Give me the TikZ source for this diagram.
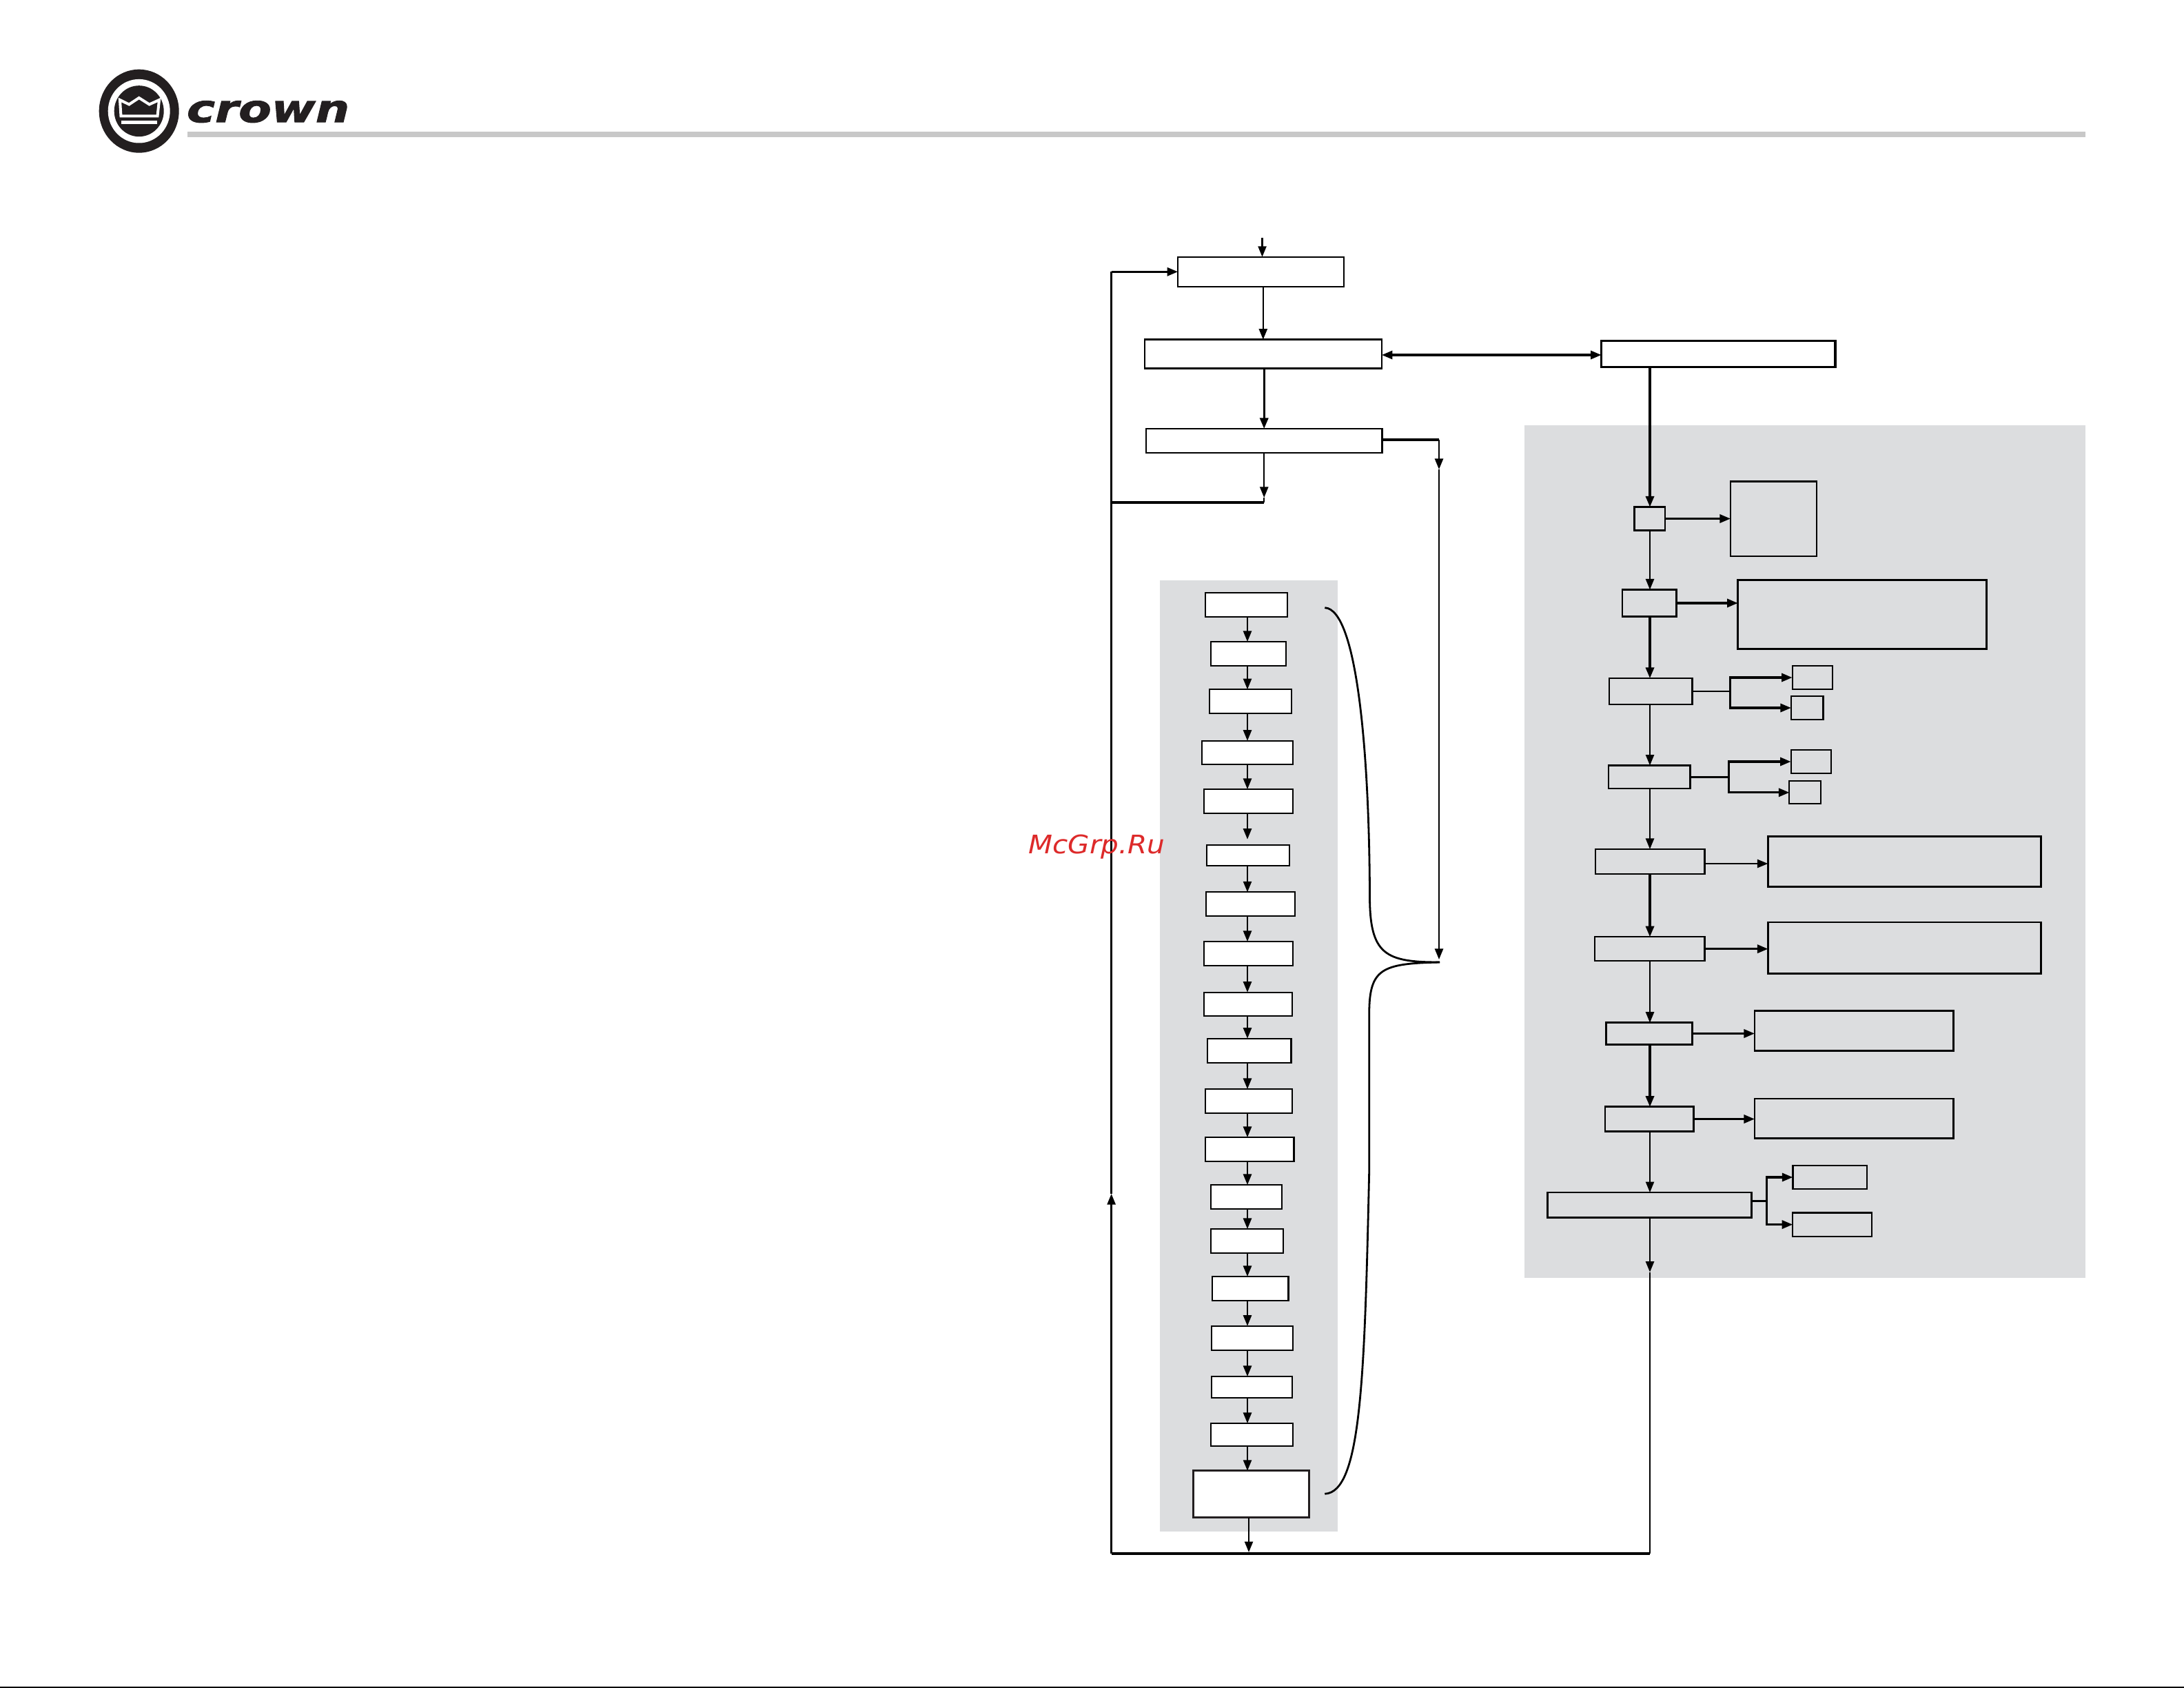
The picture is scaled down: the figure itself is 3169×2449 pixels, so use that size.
\documentclass[tikz,border=0pt]{standalone}
\usepackage{fontspec}
\newfontfamily\brandfont{DejaVu Sans}
\newfontfamily\brandheavy{DejaVu Sans}[BoldItalicFeatures={FakeBold=1.6}]
\usetikzlibrary{arrows.meta}
\definecolor{panelgray}{HTML}{DCDDDF}
\definecolor{rulegray}{HTML}{C8C8C8}
\definecolor{crownblk}{HTML}{231F20}
\definecolor{stampred}{HTML}{DD2A2A}

\begin{document}
\begin{tikzpicture}[x=0.01cm, y=0.01cm]
	\tikzstyle{every node}+=[inner sep=0pt, outer sep=0pt]
	\tikzstyle{blk}=[draw=black, line width=0.025cm]
	\tikzstyle{blkthin}=[draw=black, line width=0.021cm]
	\tikzstyle{wblk}=[blkthin, fill=white]
	\tikzstyle{wblktop}=[draw=black, line width=0.024cm, fill=white]
	\tikzstyle{wblkheavy}=[draw=black, line width=0.035cm, fill=white]
	\tikzstyle{plain}=[draw=black, line width=0.024cm]
	\tikzstyle{plainb}=[draw=black, line width=0.032cm]
	\tikzstyle{conn}=[plain, -{Triangle[length=0.155cm,width=0.12cm]}]
	\tikzstyle{connb}=[plainb, -{Triangle[length=0.155cm,width=0.12cm]}]
	\useasboundingbox (0,0) rectangle (3169,-2449);

	\fill [crownblk] (201.7,-161.2) ellipse (58 and 60.5);
	\fill [white] (201.7,-161.2) ellipse (45 and 46.3);
	\fill [crownblk] (201.7,-161.2) ellipse (36 and 37);
	\draw [white, line width=0.04cm] (174,-145) -- (187.3,-151.5) -- (201.7,-142) -- (216.7,-151.5) -- (231,-145) -- (228.5,-168.5) -- (175.5,-168.5) -- cycle;
	\fill [white] (176,-174.7) rectangle (228.3,-180);
	\node [anchor=south west, text=crownblk] (brand) at (271,-178) {\resizebox{2.36cm}{0.31cm}{\brandheavy\bfseries\itshape crown}};
	\fill [rulegray] (272,-191) rectangle (3025.5,-199);
	\draw [blkthin] (0,-2448) -- (3169,-2448);

	\fill [panelgray] (1683,-842) rectangle (1941,-2221.7);
	\fill [panelgray] (2211.5,-617.5) rectangle (3025.5,-1853.7);

	\node [wblktop, minimum width=2.41cm, minimum height=0.43cm] (top1) at (1829.7,-394.3) {};
	\node [wblktop, minimum width=3.44cm, minimum height=0.42cm] (top2) at (1832.8,-513.6) {};
	\node [wblktop, minimum width=3.42cm, minimum height=0.35cm] (top3) at (1834.2,-639.5) {};
	\node [wblkheavy, minimum width=3.39cm, minimum height=0.38cm] (side) at (2493.2,-513.3) {};

	\node [wblk, minimum width=1.195cm, minimum height=0.35cm] (lf1) at (1808.5,-877.5) {};
	\node [wblk, minimum width=1.095cm, minimum height=0.35cm] (lf2) at (1811.4,-948.5) {};
	\node [wblk, minimum width=1.195cm, minimum height=0.345cm] (lf3) at (1814.4,-1017.4) {};
	\node [wblk, minimum width=1.325cm, minimum height=0.345cm] (lf4) at (1809.9,-1092) {};
	\node [wblk, minimum width=1.295cm, minimum height=0.35cm] (lf5) at (1811.5,-1162.5) {};
	\node [wblk, minimum width=1.205cm, minimum height=0.30cm] (lf6) at (1811,-1241) {};
	\node [wblk, minimum width=1.29cm, minimum height=0.35cm] (lf7) at (1814.8,-1311.8) {};
	\node [wblk, minimum width=1.295cm, minimum height=0.35cm] (lf8) at (1811.5,-1383.5) {};
	\node [wblk, minimum width=1.28cm, minimum height=0.345cm] (lf9) at (1810.7,-1456.9) {};
	\node [wblk, minimum width=1.215cm, minimum height=0.35cm] (lf10) at (1812.7,-1524.2) {};
	\node [wblk, minimum width=1.26cm, minimum height=0.35cm] (lf11) at (1812,-1597.5) {};
	\node [wblk, minimum width=1.285cm, minimum height=0.35cm] (lf12) at (1813.2,-1667.5) {};
	\node [wblk, minimum width=1.035cm, minimum height=0.35cm] (lf13) at (1808.5,-1736.5) {};
	\node [wblk, minimum width=1.055cm, minimum height=0.35cm] (lf14) at (1809.5,-1800.5) {};
	\node [wblk, minimum width=1.105cm, minimum height=0.35cm] (lf15) at (1814.2,-1869.5) {};
	\node [wblk, minimum width=1.18cm, minimum height=0.35cm] (lf16) at (1817,-1941.2) {};
	\node [wblk, minimum width=1.17cm, minimum height=0.31cm] (lf17) at (1816.5,-2012.5) {};
	\node [wblk, minimum width=1.19cm, minimum height=0.33cm] (lf18) at (1816.5,-2081.5) {};
	\node [wblkheavy, line width=0.03cm, draw=crownblk, minimum width=1.68cm, minimum height=0.68cm] (lf19) at (1815.5,-2167.8) {};

	\node [blk, minimum width=0.445cm, minimum height=0.34cm] (rt1) at (2393.9,-752.5) {};
	\node [blk, minimum width=1.25cm, minimum height=1.085cm] (big1) at (2573.5,-752.8) {};
	\node [blk, minimum width=0.785cm, minimum height=0.39cm] (rt2) at (2393.2,-875) {};
	\node [blk, minimum width=3.605cm, minimum height=0.995cm] (big2) at (2702,-891.5) {};
	\node [blk, minimum width=1.205cm, minimum height=0.38cm] (rt3) at (2395.2,-1003) {};
	\node [blkthin, minimum width=0.58cm, minimum height=0.335cm] (sm1) at (2629.6,-983) {};
	\node [blkthin, minimum width=0.465cm, minimum height=0.335cm] (sm2) at (2622.2,-1027) {};
	\node [blk, minimum width=1.185cm, minimum height=0.335cm] (rt4) at (2393.2,-1127.3) {};
	\node [blkthin, minimum width=0.58cm, minimum height=0.335cm] (sm3) at (2627.6,-1105) {};
	\node [blkthin, minimum width=0.46cm, minimum height=0.33cm] (sm4) at (2619.4,-1149.8) {};
	\node [blk, minimum width=1.585cm, minimum height=0.36cm] (rt5) at (2394.2,-1250) {};
	\node [blk, minimum width=3.96cm, minimum height=0.73cm] (wd5) at (2763.5,-1250) {};
	\node [blk, minimum width=1.595cm, minimum height=0.35cm] (rt6) at (2393.7,-1376.7) {};
	\node [blk, minimum width=3.96cm, minimum height=0.745cm] (wd6) at (2763.5,-1375.3) {};
	\node [blk, minimum width=1.25cm, minimum height=0.315cm] (rt7) at (2393,-1499.5) {};
	\node [blk, minimum width=2.885cm, minimum height=0.58cm] (wd7) at (2690.3,-1495.5) {};
	\node [blk, minimum width=1.285cm, minimum height=0.355cm] (rt8) at (2393.2,-1623.5) {};
	\node [blk, minimum width=2.885cm, minimum height=0.575cm] (wd8) at (2690.3,-1622.8) {};
	\node [blk, minimum width=2.96cm, minimum height=0.365cm] (rt9) at (2393.5,-1748.3) {};
	\node [blk, minimum width=1.075cm, minimum height=0.34cm] (tl1) at (2655.1,-1708) {};
	\node [blk, minimum width=1.145cm, minimum height=0.345cm] (tl2) at (2658.5,-1776.6) {};

	\coordinate (colx) at (1810,0);
	\coordinate (trunk) at (2394,0);
	\coordinate (in) at (1831.5,-345);
	\coordinate (retm) at (1834.2,-722);
	\coordinate (ret) at (1834.2,-729);
	\coordinate (retl) at (1612.6,-729);
	\coordinate (ltop) at (1612.6,-394.3);
	\coordinate (lmid) at (1612.6,-1732);
	\coordinate (lbot) at (1612.6,-2254);
	\coordinate (lfout) at (1812,-2252);
	\coordinate (rmid) at (2394,-1845.7);
	\coordinate (rbot) at (2394,-2254);
	\coordinate (ctop) at (2088,-638);
	\coordinate (cmid) at (2088,-681);
	\coordinate (ctip) at (2088,-1392);
	\coordinate (btip) at (2089,-1396);
	\coordinate (jn3) at (2510.2,0);
	\coordinate (jn4) at (2508.7,0);
	\coordinate (jn9) at (2563.3,0);

	\draw [conn] (in) -- (top1.north -| in);
	\draw [conn] (top1.south -| top2.north) -- (top2.north);
	\draw [connb] (top2.south -| top3.north) -- (top3.north);
	\draw [conn] (top3.south) -- (retm);
	\draw [plain] (retm) -- (ret);
	\draw [plainb] (ret) -- (retl);
	\draw [conn] (lbot) -- (lmid);
	\draw [plain] (lmid) -- (ltop);
	\draw [connb] (ltop) -- (top1.west);
	\draw [plainb] (lbot) -- (rbot);
	\draw [plainb, {Triangle[length=0.155cm,width=0.12cm]}-{Triangle[length=0.155cm,width=0.12cm]}] (top2.east |- 0,-515) -- (side.west |- 0,-515);
	\draw [plainb] (top3.east |- ctop) -- (ctop);
	\draw [conn] (ctop) -- (cmid);
	\draw [conn] (cmid) -- (ctip);

	\draw [plain, line width=0.028cm] (1922.3,-881.7) .. controls (1970,-884) and (1987,-1100) .. (1987.5,-1300) .. controls (1987.5,-1385) and (2010,-1396) .. (btip);
	\draw [plain, line width=0.028cm] (btip) .. controls (2005,-1398) and (1987,-1405) .. (1986.7,-1470) -- (1986.7,-1700) .. controls (1980,-2000) and (1975,-2165) .. (1922.3,-2167.3);

	\draw [conn] (lf1.south -| colx) -- (lf2.north -| colx);
	\draw [conn] (lf2.south -| colx) -- (lf3.north -| colx);
	\draw [conn] (lf3.south -| colx) -- (lf4.north -| colx);
	\draw [conn] (lf4.south -| colx) -- (lf5.north -| colx);
	\draw [conn] (lf5.south -| colx) -- (1810,-1217.7);
	\draw [conn] (lf6.south -| colx) -- (lf7.north -| colx);
	\draw [conn] (lf7.south -| colx) -- (lf8.north -| colx);
	\draw [conn] (lf8.south -| colx) -- (lf9.north -| colx);
	\draw [conn] (lf9.south -| colx) -- (lf10.north -| colx);
	\draw [conn] (lf10.south -| colx) -- (lf11.north -| colx);
	\draw [conn] (lf11.south -| colx) -- (lf12.north -| colx);
	\draw [conn] (lf12.south -| colx) -- (lf13.north -| colx);
	\draw [conn] (lf13.south -| colx) -- (lf14.north -| colx);
	\draw [conn] (lf14.south -| colx) -- (lf15.north -| colx);
	\draw [conn] (lf15.south -| colx) -- (lf16.north -| colx);
	\draw [conn] (lf16.south -| colx) -- (lf17.north -| colx);
	\draw [conn] (lf17.south -| colx) -- (lf18.north -| colx);
	\draw [conn] (lf18.south -| colx) -- (lf19.north -| colx);
	\draw [conn] (lf19.south -| lfout) -- (lfout);

	\draw [connb] (side.south -| trunk) -- (rt1.north -| trunk);
	\draw [conn] (rt1.south -| trunk) -- (rt2.north -| trunk);
	\draw [connb] (rt2.south -| trunk) -- (rt3.north -| trunk);
	\draw [conn] (rt3.south -| trunk) -- (rt4.north -| trunk);
	\draw [conn] (rt4.south -| trunk) -- (rt5.north -| trunk);
	\draw [connb] (rt5.south -| trunk) -- (rt6.north -| trunk);
	\draw [conn] (rt6.south -| trunk) -- (rt7.north -| trunk);
	\draw [connb] (rt7.south -| trunk) -- (rt8.north -| trunk);
	\draw [conn] (rt8.south -| trunk) -- (rt9.north -| trunk);
	\draw [conn] (rt9.south -| trunk) -- (rmid);
	\draw [plain] (rmid) -- (rbot);

	\draw [connb] (rt1.east) -- (big1.west |- rt1.east);
	\draw [connb] (rt2.east) -- (big2.west |- rt2.east);
	\draw [plain] (rt3.east |- 0,-1002.7) -- (jn3 |- 0,-1002.7);
	\draw [connb] (jn3 |- 0,-1005) -- (jn3 |- sm1.west) -- (sm1.west);
	\draw [connb] (jn3 |- 0,-1000) -- (jn3 |- sm2.west) -- (sm2.west);
	\draw [plain] (rt4.east) -- (jn4 |- rt4.east);
	\draw [connb] (jn4 |- 0,-1129) -- (jn4 |- sm3.west) -- (sm3.west);
	\draw [connb] (jn4 |- 0,-1125) -- (jn4 |- sm4.west) -- (sm4.west);
	\draw [conn] (rt5.east |- 0,-1253) -- (wd5.west |- 0,-1253);
	\draw [connb] (rt6.east) -- (wd6.west |- rt6.east);
	\draw [connb] (rt7.east) -- (wd7.west |- rt7.east);
	\draw [connb] (rt8.east) -- (wd8.west |- rt8.east);
	\draw [plainb] (rt9.east |- 0,-1742.3) -- (jn9 |- 0,-1742.3);
	\draw [connb] (jn9 |- 0,-1745) -- (jn9 |- tl1.west) -- (tl1.west);
	\draw [connb] (jn9 |- 0,-1740) -- (jn9 |- tl2.west) -- (tl2.west);

	\node [anchor=base west, text=stampred] (stamp) at (1492.4,-1238.3) {\resizebox{1.98cm}{0.275cm}{\brandfont\itshape McGrp.Ru}};
\end{tikzpicture}
\end{document}
